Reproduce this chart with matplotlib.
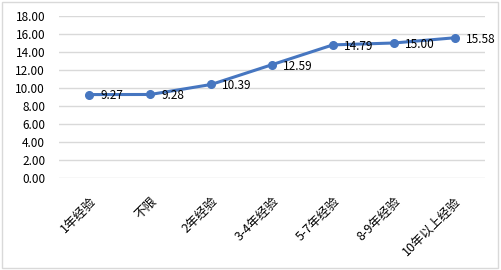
import matplotlib
matplotlib.use("Agg")
import matplotlib.pyplot as plt
from matplotlib.patches import Rectangle

plt.rcParams['font.family'] = ['Noto Sans CJK SC', 'DejaVu Sans']

categories = ["1年经验", "不限", "2年经验", "3-4年经验", "5-7年经验", "8-9年经验", "10年以上经验"]
salaries = [9.27, 9.28, 10.39, 12.59, 14.79, 15.00, 15.58]
yticks = [0, 2, 4, 6, 8, 10, 12, 14, 16, 18]

fig = plt.figure(figsize=(5.01, 2.70), dpi=100)
ax = fig.add_axes([59 / 501, 1 - 178 / 270, 426 / 501, 162 / 270])

x = list(range(len(categories)))
ax.plot(x, salaries, color="#4676C0", linewidth=2.2, marker="o", markersize=5.5, zorder=3)
for xi, v in zip(x, salaries):
    ax.annotate(f"{v:.2f}", (xi, v), xytext=(8, -1), textcoords="offset points",
                fontsize=8.5, ha="left", va="center", color="#000000", zorder=4)

ax.set_xlim(-0.5, len(categories) - 0.5)
ax.set_ylim(0, 18)
ax.set_yticks(yticks)
ax.set_yticklabels([f"{t:.2f}" for t in yticks], fontsize=8.5)
ax.set_xticks(x)
ax.set_xticklabels(categories, rotation=45, ha="right", va="top", fontsize=9,
                   rotation_mode="anchor")
ax.tick_params(axis="y", length=0, pad=10)
ax.tick_params(axis="x", length=0, pad=12)
ax.grid(axis="y", color="#D9D9D9", linewidth=1)
ax.set_axisbelow(True)
for s in ax.spines.values():
    s.set_visible(False)

fig.patches.append(Rectangle((0.004, 0.006), 0.99, 0.988, transform=fig.transFigure,
                             fill=False, edgecolor="#D9D9D9", linewidth=1))

fig.savefig("out.png", dpi=100)
